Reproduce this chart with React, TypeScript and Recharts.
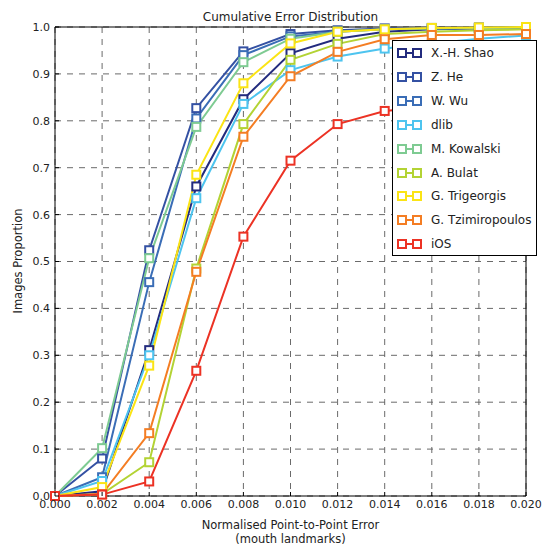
import React from "react";
import { LineChart, Line, XAxis, YAxis, CartesianGrid, ReferenceArea } from "recharts";

const errors = [0, 0.002, 0.004, 0.006, 0.008, 0.01, 0.012, 0.014, 0.016, 0.018, 0.02];
const xTicks = [0, 0.002, 0.004, 0.006, 0.008, 0.01, 0.012, 0.014, 0.016, 0.018, 0.02];
const yTicks = [0, 0.1, 0.2, 0.3, 0.4, 0.5, 0.6, 0.7, 0.8, 0.9, 1.0];

const shao = [0, 0.01, 0.311, 0.66, 0.846, 0.944, 0.975, 0.99, 0.995, 0.997, 0.998];
const he = [0, 0.08, 0.524, 0.827, 0.948, 0.985, 0.993, 0.997, 0.998, 0.999, 1.0];
const wu = [0, 0.04, 0.456, 0.805, 0.94, 0.98, 0.99, 0.995, 0.997, 0.998, 0.999];
const dlib = [0, 0.032, 0.3, 0.635, 0.836, 0.908, 0.937, 0.954, 0.965, 0.975, 0.982];
const kowalski = [0, 0.102, 0.507, 0.787, 0.925, 0.975, 0.99, 0.995, 0.997, 0.998, 0.999];
const bulat = [0, 0.004, 0.072, 0.485, 0.793, 0.93, 0.964, 0.985, 0.99, 0.993, 0.995];
const trigeorgis = [0, 0.019, 0.278, 0.685, 0.88, 0.965, 0.99, 0.995, 0.998, 0.999, 1.0];
const tzimiropoulos = [0, 0.004, 0.134, 0.478, 0.766, 0.895, 0.947, 0.974, 0.983, 0.983, 0.985];
const ios = [0, 0.003, 0.031, 0.267, 0.553, 0.715, 0.793, 0.821, 0.83, 0.835, 0.84];

const seriesNames = [
  "X.-H. Shao",
  "Z. He",
  "W. Wu",
  "dlib",
  "M. Kowalski",
  "A. Bulat",
  "G. Trigeorgis",
  "G. Tzimiropoulos",
  "iOS",
];
const seriesValues = [shao, he, wu, dlib, kowalski, bulat, trigeorgis, tzimiropoulos, ios];
const seriesColors = [
  "#232b7e",
  "#3451a3",
  "#3a6db6",
  "#4dc4ef",
  "#7ecb92",
  "#b3d334",
  "#fbe414",
  "#f47d23",
  "#ec3224",
];

const data = errors.map((e, i) => {
  const row: Record<string, number> = { error: e };
  seriesNames.forEach((n, k) => {
    row[n] = seriesValues[k][i];
  });
  return row;
});

const FONT = "'DejaVu Sans', sans-serif";

const SquareDot = (color: string) => (props: any) => {
  const { cx, cy, index } = props;
  if (cx == null || cy == null) return <g key={index} />;
  return (
    <rect
      key={index}
      x={cx - 4}
      y={cy - 4}
      width={8}
      height={8}
      fill="#ffffff"
      stroke={color}
      strokeWidth={2}
    />
  );
};

const BottomTick = (props: any) => {
  const { x, y, payload } = props;
  const axisY = y - 4;
  return (
    <g>
      <line x1={x} x2={x} y1={axisY} y2={axisY - 4} stroke="#000" strokeWidth={1} />
      <text x={x} y={y} dy="0.71em" textAnchor="middle" fontSize={11} fontFamily={FONT} fill="#222">
        {Number(payload.value).toFixed(3)}
      </text>
    </g>
  );
};

const LeftTick = (props: any) => {
  const { x, y, payload } = props;
  const axisX = x + 5;
  return (
    <g>
      <line x1={axisX} x2={axisX + 4} y1={y} y2={y} stroke="#000" strokeWidth={1} />
      <text x={x} y={y} dy="0.355em" textAnchor="end" fontSize={11} fontFamily={FONT} fill="#222">
        {Number(payload.value).toFixed(1)}
      </text>
    </g>
  );
};

const TopTick = (props: any) => {
  const { x, y } = props;
  return <line x1={x} x2={x} y1={y} y2={y + 4} stroke="#000" strokeWidth={1} />;
};

const RightTick = (props: any) => {
  const { x, y } = props;
  return <line x1={x} x2={x - 4} y1={y} y2={y} stroke="#000" strokeWidth={1} />;
};

const LegendBox = () => (
  <div
    style={{
      position: "absolute",
      left: 392,
      top: 40,
      width: 143,
      height: 214,
      border: "1px solid #000",
      background: "#fff",
      fontFamily: FONT,
      fontSize: 12,
      color: "#222",
      boxSizing: "content-box",
    }}
  >
    {seriesNames.map((n, k) => (
      <div
        key={n}
        style={{ position: "absolute", left: 3, top: 4 + k * 23.9, height: 16, display: "flex", alignItems: "center" }}
      >
        <svg width={28} height={12} style={{ display: "block" }}>
          <line x1={4} x2={22} y1={6} y2={6} stroke={seriesColors[k]} strokeWidth={2} />
          <rect x={2} y={2} width={8} height={8} fill="#fff" stroke={seriesColors[k]} strokeWidth={2} />
          <rect x={17} y={2} width={8} height={8} fill="#fff" stroke={seriesColors[k]} strokeWidth={2} />
        </svg>
        <span style={{ marginLeft: 7, whiteSpace: "nowrap" }}>{n}</span>
      </div>
    ))}
  </div>
);

export default function App() {
  return (
    <div style={{ position: "absolute", left: 0, top: 0, width: 543, height: 545, background: "#fff" }}>
      <LineChart width={543} height={545} data={data} margin={{ top: 27, right: 17, left: 0, bottom: 0 }}>
        <CartesianGrid stroke="#6a6a6a" strokeDasharray="6 6" strokeWidth={1} />
        <XAxis
          dataKey="error"
          type="number"
          domain={[0, 0.02]}
          ticks={xTicks}
          height={49}
          axisLine={false}
          tickLine={false}
          tickSize={4}
          tickMargin={0}
          tick={BottomTick}
          interval={0}
        />
        <XAxis
          xAxisId="top"
          orientation="top"
          type="number"
          domain={[0, 0.02]}
          ticks={xTicks}
          height={0}
          axisLine={false}
          tickLine={false}
          tickSize={0}
          tickMargin={0}
          tick={TopTick}
          interval={0}
        />
        <YAxis
          type="number"
          domain={[0, 1]}
          ticks={yTicks}
          width={55}
          axisLine={false}
          tickLine={false}
          tickSize={3}
          tickMargin={2}
          tick={LeftTick}
          interval={0}
        />
        <YAxis
          yAxisId="right"
          orientation="right"
          type="number"
          domain={[0, 1]}
          ticks={yTicks}
          width={0}
          axisLine={false}
          tickLine={false}
          tickSize={0}
          tickMargin={0}
          tick={RightTick}
          interval={0}
        />
        {seriesNames.map((n, k) => (
          <Line
            key={n}
            type="linear"
            dataKey={n}
            stroke={seriesColors[k]}
            strokeWidth={2}
            dot={SquareDot(seriesColors[k])}
            activeDot={false}
            isAnimationActive={false}
          />
        ))}
        <ReferenceArea
          x1={0}
          x2={0.02}
          y1={0}
          y2={1}
          fill="none"
          fillOpacity={0}
          stroke="#000"
          strokeWidth={1}
          ifOverflow="visible"
        />
      </LineChart>
      <div
        style={{
          position: "absolute",
          left: 55,
          width: 471,
          top: 10,
          textAlign: "center",
          fontFamily: FONT,
          fontSize: 12,
          lineHeight: "15px",
          color: "#222",
        }}
      >
        Cumulative Error Distribution
      </div>
      <div
        style={{
          position: "absolute",
          left: 55,
          width: 471,
          top: 518,
          textAlign: "center",
          fontFamily: FONT,
          fontSize: 11.5,
          lineHeight: "14px",
          color: "#222",
        }}
      >
        Normalised Point-to-Point Error
        <br />
        (mouth landmarks)
      </div>
      <div
        style={{
          position: "absolute",
          left: 18,
          top: 261,
          transform: "translate(-50%, -50%) rotate(-90deg)",
          fontFamily: FONT,
          fontSize: 11.5,
          color: "#222",
          whiteSpace: "nowrap",
        }}
      >
        Images Proportion
      </div>
      <LegendBox />
    </div>
  );
}
